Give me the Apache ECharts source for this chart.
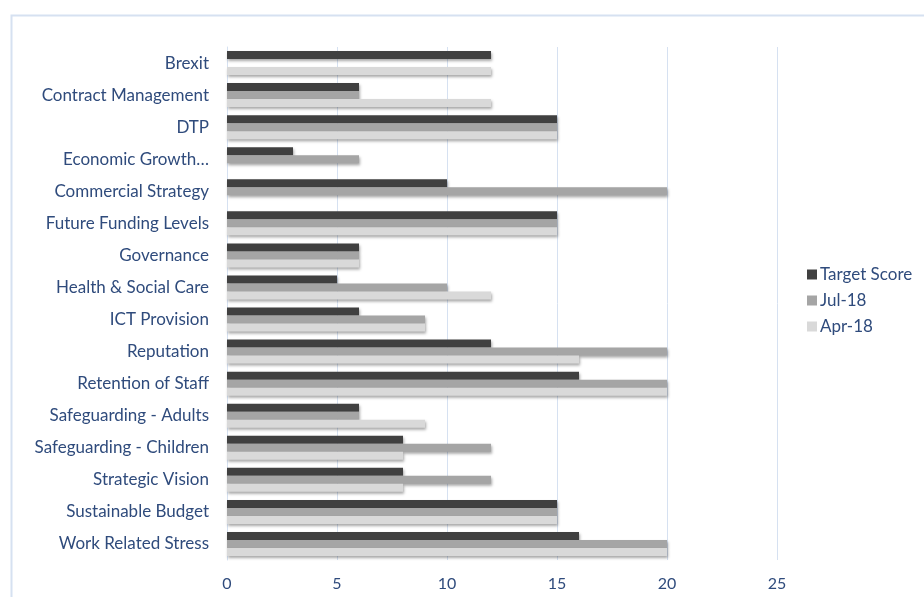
<!DOCTYPE html>
<html lang="en">
<head>
    <meta charset="UTF-8">
    <title>Risk scores</title>
    <style>
        html, body { margin: 0; padding: 0; background: #fff; }
        #main { width: 924px; height: 597px; }
    </style>
</head>
<body>
<div id="main"></div>
<script src="https://cdn.jsdelivr.net/npm/echarts@6/dist/echarts.min.js"></script>
<script>
    // categories, top to bottom
    const categories = [
        'Brexit', 'Contract Management', 'DTP', 'Economic Growth…', 'Commercial Strategy',
        'Future Funding Levels', 'Governance', 'Health & Social Care', 'ICT Provision',
        'Reputation', 'Retention of Staff', 'Safeguarding - Adults', 'Safeguarding - Children',
        'Strategic Vision', 'Sustainable Budget', 'Work Related Stress'
    ];
    const targetScore = [12, 6, 15, 3, 10, 15, 6, 5, 6, 12, 16, 6, 8, 8, 15, 16];
    const jul18 = [null, 6, 15, 6, 20, 15, 6, 10, 9, 20, 20, 6, 12, 12, 15, 20];
    const apr18 = [12, 12, 15, null, null, 15, 6, 12, 9, 16, 20, 9, 8, 8, 15, 20];
    const xTicks = [0, 5, 10, 15, 20, 25];

    const textColor = '#2F4B7C';
    const gridColor = '#D6E1F1';
    const font = 'Lato, "Open Sans", sans-serif';

    function barSeries(name, data, color) {
        return {
            name, type: 'bar', data,
            barGap: '0%', barCategoryGap: '25%',
            itemStyle: {
                color,
                shadowBlur: 3, shadowOffsetX: 1, shadowOffsetY: 2,
                shadowColor: 'rgba(0,0,0,0.35)'
            }
        };
    }

    const myChart = echarts.init(document.getElementById('main'));
    myChart.setOption({
        animation: false,
        textStyle: { fontFamily: font },
        graphic: [{
            type: 'rect', left: 9, top: 13,
            shape: { width: 1000, height: 700 },
            style: { fill: 'none', stroke: gridColor, lineWidth: 2 },
            silent: true
        }],
        grid: { left: 227, right: 147, top: 47, bottom: 37, containLabel: false },
        legend: {
            orient: 'vertical', left: 802, top: 261,
            itemWidth: 10, itemHeight: 10, itemGap: 9, icon: 'rect',
            textStyle: { color: textColor, fontSize: 17, fontFamily: font, padding: [0, 0, 0, -2] },
            data: ['Target Score', 'Jul-18', 'Apr-18']
        },
        xAxis: {
            type: 'value', min: xTicks[0], max: xTicks[xTicks.length - 1], interval: 5,
            axisLine: { show: false }, axisTick: { show: false },
            axisLabel: { color: textColor, fontSize: 16, margin: 16 },
            splitLine: { lineStyle: { color: gridColor, width: 1 } }
        },
        yAxis: {
            type: 'category', data: categories, inverse: true,
            axisLine: { show: true, lineStyle: { color: gridColor } },
            axisTick: { show: false },
            axisLabel: { color: textColor, fontSize: 17, margin: 18 }
        },
        series: [
            barSeries('Target Score', targetScore, '#404040'),
            barSeries('Jul-18', jul18, '#A5A5A5'),
            barSeries('Apr-18', apr18, '#D9D9D9')
        ]
    });
</script>
</body>
</html>
